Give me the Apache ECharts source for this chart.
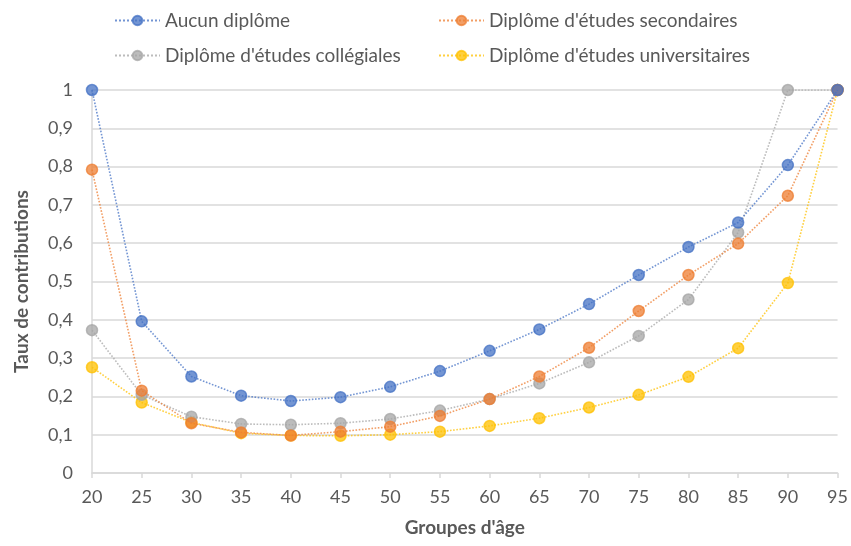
<!DOCTYPE html>
<html><head><meta charset="utf-8">
<script src="https://cdn.jsdelivr.net/npm/echarts@6/dist/echarts.min.js"></script>
<style>html,body{margin:0;padding:0;background:#fff}#c{width:851px;height:546px}</style>
</head><body><div id="c"></div>
<script>
const ages = ['20','25','30','35','40','45','50','55','60','65','70','75','80','85','90','95'];
const aucun = [1.0,0.396,0.252,0.202,0.188,0.198,0.225,0.266,0.319,0.375,0.441,0.517,0.59,0.654,0.804,1.0];
const secondaires = [0.792,0.215,0.13,0.106,0.098,0.108,0.121,0.149,0.193,0.252,0.327,0.423,0.517,0.599,0.724,1.0];
const collegiales = [0.373,0.204,0.147,0.128,0.126,0.13,0.141,0.163,0.193,0.234,0.289,0.358,0.453,0.628,1.0,1.0];
const universitaires = [0.276,0.184,0.132,0.104,0.098,0.097,0.1,0.108,0.123,0.143,0.171,0.204,0.251,0.326,0.496,1.0];
const names = ['Aucun diplôme','Diplôme d\'études secondaires','Diplôme d\'études collégiales','Diplôme d\'études universitaires'];
const colors = ['#4472C4','#ED7D31','#A5A5A5','#FFC000'];
const datas = [aucun, secondaires, collegiales, universitaires];

const font = 'Lato, "Open Sans", sans-serif';
const chart = echarts.init(document.getElementById('c'), null, {renderer:'canvas'});
const legendPos = [[109,6],[433,6],[109,41],[433,41]];
const legends = names.map((n,i)=>({
  left: legendPos[i][0], top: legendPos[i][1], data:[n],
  itemWidth: 45, itemHeight: 12, itemGap: 10,
  textStyle:{fontFamily:font, fontSize:19, color:'#595959'}
}));
chart.setOption({
  animation:false,
  backgroundColor:'#fff',
  legend: legends,
  grid:{left:92, right:13, top:90, bottom:73, containLabel:false},
  xAxis:{
    type:'category', data: ages, boundaryGap:false,
    name:'Groupes d\'âge', nameLocation:'middle', nameGap:45,
    nameTextStyle:{fontFamily:font, fontSize:19, fontWeight:'bold', color:'#595959'},
    axisLine:{lineStyle:{color:'#D9D9D9', width:1.5}},
    axisTick:{show:true, length:5, lineStyle:{color:'#D9D9D9', width:1.5}},
    axisLabel:{fontFamily:font, fontSize:18, color:'#595959', margin:15},
    splitLine:{show:false}
  },
  yAxis:{
    type:'value', min:0, max:1, interval:0.1,
    name:'Taux de contributions', nameLocation:'middle', nameGap:61, nameRotate:90,
    nameTextStyle:{fontFamily:font, fontSize:19, fontWeight:'bold', color:'#595959'},
    axisLine:{show:true, lineStyle:{color:'#D9D9D9', width:1.5}},
    axisTick:{show:false},
    axisLabel:{fontFamily:font, fontSize:18, color:'#595959', margin:19,
      formatter: v => String(Math.round(v*10)/10).replace('.',',')},
    splitLine:{lineStyle:{color:'#D9D9D9', width:1.5}}
  },
  series: names.map((n,i)=>({
    name:n, type:'line', data: datas[i], color: colors[i],
    symbol:'circle', symbolSize:11,
    lineStyle:{type:'dotted', width:1.6, color: colors[i], opacity:0.75},
    itemStyle:{color: colors[i], borderColor: colors[i], borderWidth:1.5, opacity:0.75},
    z: 10-i
  }))
});
</script></body></html>
